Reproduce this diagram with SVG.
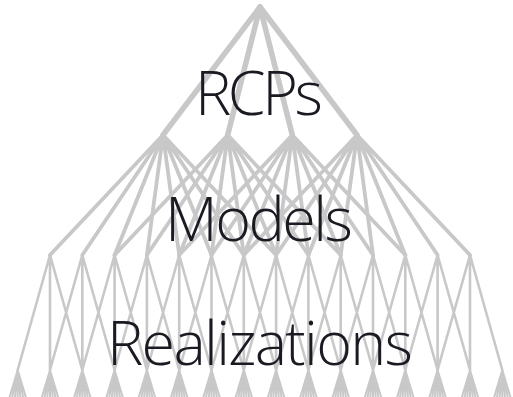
<svg xmlns="http://www.w3.org/2000/svg" xmlns:xlink="http://www.w3.org/1999/xlink" width="513" height="397" viewBox="0 0 513 397">
  <style>
    .edge { fill: none; stroke: #c8c8c8; stroke-linecap: round; stroke-linejoin: round; }
    .e1 { stroke-width: 5.5; }
    .e2 { stroke-width: 3.8; }
    .e3 { stroke-width: 2.6; }
    .e4 { stroke-width: 2; }
    .node circle { fill: #c8c8c8; }
    .label { font-family: "Open Sans", "Liberation Sans", sans-serif; font-weight: 300; font-size: 61px; fill: #1a1a22; text-anchor: middle; }
  </style>
  <defs>
    <!-- small fan of realization strokes spreading from one point -->
    <path id="fan" d="M-9 30L0 0L9 30M-6 30L0 0L6 30M-3 30L0 0L3 30M0 0V30"/>
  </defs>
  <rect width="513" height="397" fill="#ffffff"/>

  <g id="connectors">
    <!-- root to scenarios -->
    <path class="edge e1" d="M260 7L163 135M260 7L227.7 135M260 7L292.3 135M260 7L357 135"/>
    <!-- scenarios to models -->
    <path class="edge e2" d="M163 135L50 255M163 135L82.3 255M163 135L114.6 255M163 135L146.9 255M163 135L179.2 255M163 135L211.5 255M163 135L243.8 255M163 135L276.1 255"/>
    <path class="edge e2" d="M227.7 135L114.6 255M227.7 135L146.9 255M227.7 135L179.2 255M227.7 135L211.5 255M227.7 135L243.8 255M227.7 135L276.1 255M227.7 135L308.4 255M227.7 135L340.7 255"/>
    <path class="edge e2" d="M292.3 135L179.2 255M292.3 135L211.5 255M292.3 135L243.8 255M292.3 135L276.1 255M292.3 135L308.4 255M292.3 135L340.7 255M292.3 135L373 255M292.3 135L405.3 255"/>
    <path class="edge e2" d="M357 135L243.8 255M357 135L276.1 255M357 135L308.4 255M357 135L340.7 255M357 135L373 255M357 135L405.3 255M357 135L437.6 255M357 135L470 255"/>
    <!-- models to realization points -->
    <path class="edge e3" d="M17.7 370L50 255L82.3 370M50 255V370
      M50 370L82.3 255L114.6 370M82.3 255V370
      M82.3 370L114.6 255L146.9 370M114.6 255V370
      M114.6 370L146.9 255L179.2 370M146.9 255V370
      M146.9 370L179.2 255L211.5 370M179.2 255V370
      M179.2 370L211.5 255L243.8 370M211.5 255V370
      M211.5 370L243.8 255L276.1 370M243.8 255V370
      M243.8 370L276.1 255L308.4 370M276.1 255V370
      M276.1 370L308.4 255L340.7 370M308.4 255V370
      M308.4 370L340.7 255L373 370M340.7 255V370
      M340.7 370L373 255L405.3 370M373 255V370
      M373 370L405.3 255L437.6 370M405.3 255V370
      M405.3 370L437.6 255L470 370M437.6 255V370
      M437.6 370L470 255L502.3 370M470 255V370"/>
    <!-- realization fans -->
    <g class="edge e4">
      <use xlink:href="#fan" x="17.7" y="370"/>
      <use xlink:href="#fan" x="50" y="370"/>
      <use xlink:href="#fan" x="82.3" y="370"/>
      <use xlink:href="#fan" x="114.6" y="370"/>
      <use xlink:href="#fan" x="146.9" y="370"/>
      <use xlink:href="#fan" x="179.2" y="370"/>
      <use xlink:href="#fan" x="211.5" y="370"/>
      <use xlink:href="#fan" x="243.8" y="370"/>
      <use xlink:href="#fan" x="276.1" y="370"/>
      <use xlink:href="#fan" x="308.4" y="370"/>
      <use xlink:href="#fan" x="340.7" y="370"/>
      <use xlink:href="#fan" x="373" y="370"/>
      <use xlink:href="#fan" x="405.3" y="370"/>
      <use xlink:href="#fan" x="437.6" y="370"/>
      <use xlink:href="#fan" x="470" y="370"/>
      <use xlink:href="#fan" x="502.3" y="370"/>
    </g>
  </g>

  <g id="root" class="node"><circle cx="260" cy="7" r="2.8"/></g>
  <g id="rcp-1" class="node"><circle cx="163" cy="135" r="2"/></g>
  <g id="rcp-2" class="node"><circle cx="227.7" cy="135" r="2"/></g>
  <g id="rcp-3" class="node"><circle cx="292.3" cy="135" r="2"/></g>
  <g id="rcp-4" class="node"><circle cx="357" cy="135" r="2"/></g>

  <g id="labels">
    <text class="label" x="259" y="115" textLength="128">RCPs</text>
    <text class="label" x="259" y="241" textLength="188">Models</text>
    <text class="label" x="260" y="365" textLength="306">Realizations</text>
  </g>
</svg>
